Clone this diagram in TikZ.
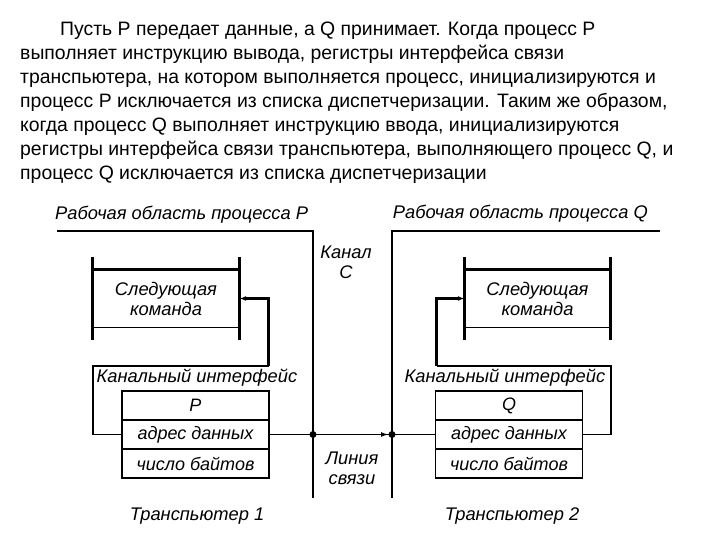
\documentclass[tikz,border=0pt]{standalone}
\usepackage{fontspec}
\setmainfont{Liberation Sans}
\usetikzlibrary{arrows.meta,positioning}

\tikzset{
  lbl/.style={font=\fontsize{18.3}{20}\selectfont\itshape, inner sep=0pt},
  cell/.style={draw, line width=1.8pt, minimum width=147pt, minimum height=29pt,
    inner sep=0pt, outer sep=0pt, font=\fontsize{18}{20}\selectfont\itshape},
  cmdbox/.style={lbl, align=center, minimum width=146pt, minimum height=57pt},
  bar/.style={line width=3pt},
  frame/.style={line width=1.8pt},
  wire/.style={line width=1.2pt},
}

\begin{document}
\begin{tikzpicture}[x=1pt, y=-1pt]
  \useasboundingbox (0,0) rectangle (720,540);

  % text above the picture
  \node[anchor=north west, align=left, inner sep=0pt,
    font=\fontsize{19.4}{24}\selectfont] (intro) at (20,22)
    {\hspace*{40pt}Пусть P передает данные, а Q принимает. Когда процесс P\\
     выполняет инструкцию вывода, регистры интерфейса связи\\
     транспьютера, на котором выполняется процесс, инициализируются и\\
     процесс P исключается из списка диспетчеризации. Таким же образом,\\
     когда процесс Q выполняет инструкцию ввода, инициализируются\\
     регистры интерфейса связи транспьютера, выполняющего процесс Q, и\\
     процесс Q исключается из списка диспетчеризации};

  % work areas and channel
  \node[lbl, anchor=west] (areaP) at (55,215) {Рабочая область процесса P};
  \node[lbl, anchor=east] (areaQ) at (648,214) {Рабочая область процесса Q};
  \coordinate (topP) at (57,231);
  \coordinate (chanP) at (313,231);
  \coordinate (endP) at (313,498);
  \coordinate (topQ) at (660,231);
  \coordinate (chanQ) at (392,231);
  \coordinate (endQ) at (392,498);
  \draw[wire] (topP) -- (chanP) -- (endP);
  \draw[wire] (topQ) -- (chanQ) -- (endQ);
  \node[lbl, align=center] (chan) at (346,262) {Канал\\C};
  \node[lbl, align=center] (link) at (352,468) {Линия\\связи};

  % transputer 1
  \node[cell] (p1) at (195.5,405.5) {P};
  \node[cell, below=0pt of p1] (p2) {адрес данных};
  \node[cell, below=0pt of p2] (p3) {число байтов};
  \node[cmdbox] (nextP) at (166,298.5) {Следующая\\команда};
  \draw[bar] ([yshift=13pt]nextP.north west) -- ([yshift=-13pt]nextP.south west);
  \draw[bar] ([yshift=13pt]nextP.north east) -- ([yshift=-13pt]nextP.south east);
  \draw[bar] (nextP.north west) -- (nextP.north east);
  \draw[wire] (nextP.south west) -- (nextP.south east);
  \node[lbl] (ifP) at (197,378) {Канальный интерфейс};
  \coordinate (ifPtl) at (93,366);
  \coordinate (ifPtr) at (268.5,366);
  \draw[frame] (p2.west) -| (ifPtl) -- (ifPtr);
  \draw[bar, -{Latex[length=7pt,width=5pt]}] (ifPtr) |- (nextP.east);
  \node[lbl] (tr1) at (197,516) {Транспьютер 1};

  % transputer 2
  \node[cell] (q1) at (509,405.5) {Q};
  \node[cell, below=0pt of q1] (q2) {адрес данных};
  \node[cell, below=0pt of q2] (q3) {число байтов};
  \node[cmdbox, minimum width=145pt] (nextQ) at (537.5,298.5) {Следующая\\команда};
  \draw[bar] ([yshift=13pt]nextQ.north west) -- ([yshift=-13pt]nextQ.south west);
  \draw[bar] ([yshift=13pt]nextQ.north east) -- ([yshift=-13pt]nextQ.south east);
  \draw[bar] (nextQ.north west) -- (nextQ.north east);
  \draw[wire] (nextQ.south west) -- (nextQ.south east);
  \node[lbl] (ifQ) at (505,378) {Канальный интерфейс};
  \coordinate (ifQtl) at (436.5,366);
  \coordinate (ifQtr) at (611,366);
  \draw[frame] (q2.east) -| (ifQtr) -- (ifQtl);
  \draw[bar, -{Latex[length=7pt,width=5pt]}] (ifQtl) |- (nextQ.west);
  \node[lbl] (tr2) at (512,516) {Транспьютер 2};

  % link line
  \coordinate (dotP) at (313,434.5);
  \coordinate (dotQ) at (392,434.5);
  \draw[wire] (p2.east) -- (q2.west);
  \draw[wire, -{Latex[length=7pt,width=5pt]}] (dotP) -- ([xshift=-4pt]dotQ);
  \fill (dotP) circle (3.5pt);
  \fill (dotQ) circle (3.5pt);
\end{tikzpicture}
\end{document}
